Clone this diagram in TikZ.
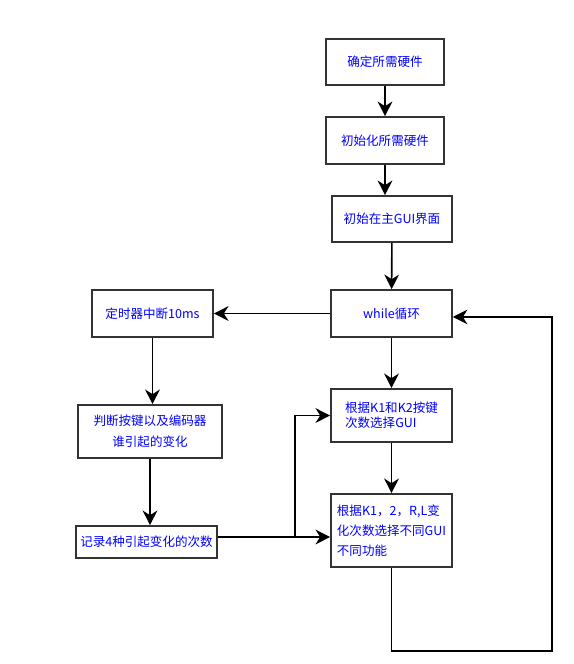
\documentclass[tikz,border=0pt]{standalone}
\usepackage{fontspec}
\setmainfont{Noto Sans CJK SC}
\usetikzlibrary{arrows.meta}
\tikzset{
  box/.style={draw=black!80, line width=1.2pt, minimum width=90.75pt, minimum height=35.25pt,
    inner sep=2pt, text=blue, font=\fontsize{9.4}{12}\selectfont},
  flow/.style={-{Stealth[length=11pt,width=11pt,inset=3.5pt]}, line width=1.2pt}
}
\begin{document}
\begin{tikzpicture}[x=0.75pt,y=-0.75pt]
   \useasboundingbox (0,0) rectangle (574,664);
   \node [box, minimum width=88.5pt, minimum height=34.5pt] (hw) at (385,62) {确定所需硬件};
   \node [box, minimum width=88.5pt] (init) at (385,140.5) {初始化所需硬件};
   \node [box, minimum width=90pt, minimum height=34.5pt] (gui) at (392,219) {初始在主GUI界面};
   \node [box] (loop) at (391.5,313.5) {while循环};
   \node [box, minimum height=39.75pt, align=left, font=\fontsize{9.4}{11.25}\selectfont] (sel) at (391.5,415.5) {根据K1和K2按键\\次数选择GUI};
   \node [box, minimum height=54.75pt, align=left, font=\fontsize{9.4}{15}\selectfont] (func) at (391.5,530.5) {根据K1，2，R,L变\\化次数选择不同GUI\\不同功能};
   \node [box] (timer) at (152.5,313.5) {定时器中断10ms};
   \node [box, minimum width=108pt, minimum height=39.75pt, align=center, font=\fontsize{9.4}{15.75}\selectfont] (judge) at (150,431.5) {判断按键以及编码器\\谁引起的变化};
   \node [box, minimum width=105.75pt, minimum height=24pt] (count) at (146.5,542) {记录4种引起变化的次数};
   \coordinate (split) at (295,537);
   \coordinate (back) at (552,651);
   \draw [flow] (hw) -- (init);
   \draw [flow] (init.south) -- (init.south |- gui.north);
   \draw [flow] (gui) -- (loop);
   \draw [flow] (loop) -- (timer);
   \draw [flow] (timer.south) -- (timer.south |- judge.north);
   \draw [flow] (judge.south) -- (judge.south |- count.north);
   \draw [flow] (loop) -- (sel);
   \draw [flow] (sel) -- (func);
   \draw [line width=1.2pt] (count.east |- split) -- (split);
   \draw [flow] (split) -- (split -| func.west);
   \draw [flow] (split) |- (sel.west);
   \draw [flow] (func.south) |- (back) |- ([yshift=-2.6pt]loop.east);
\end{tikzpicture}
\end{document}
